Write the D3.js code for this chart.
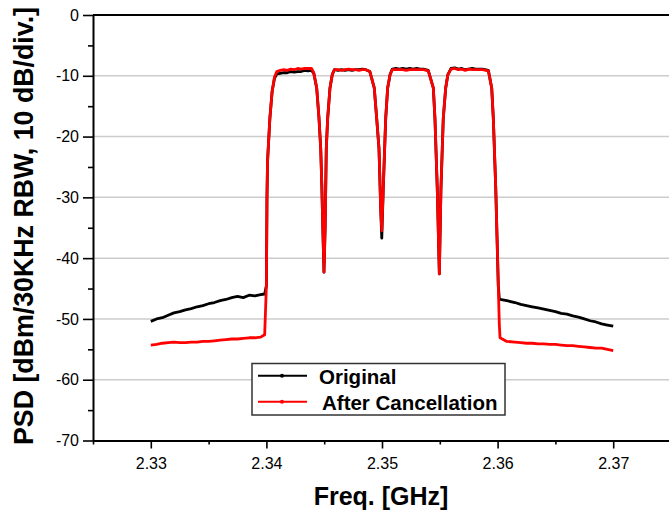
<!DOCTYPE html>
<html><head><meta charset="utf-8">
<script src="https://cdn.jsdelivr.net/npm/d3@7"></script>
<style>body{margin:0;background:#fff}svg{display:block}</style>
</head><body>
<svg id="c" width="669" height="515"></svg>
<script>
const freqGHz = [
 2.3300,2.3305,2.3310,2.3315,2.3320,2.3325,2.3330,2.3335,2.3340,2.3345,2.3350,2.3355,2.3360,2.3365,2.3370,2.3375,2.3380,2.3385,2.3390,2.3395,2.33985,
 2.34000,2.34005,2.3401,2.3403,2.3405,2.3407,2.3409,
 2.3412,2.3415,2.3418,2.3421,2.3424,2.3427,2.3430,2.3433,2.3436,2.3439,
 2.3441,2.34435,2.34455,2.3447,2.3448,2.34488,2.34498,2.34508,2.34518,2.3453,2.3455,2.3457,2.34588,
 2.3462,2.3465,2.3468,2.3471,2.3474,2.3477,2.3480,2.3483,2.3486,
 2.34895,2.34933,2.34954,2.34974,2.34989,2.34998,2.35011,2.35032,2.35049,2.3507,2.35089,
 2.3512,2.3515,2.3518,2.3521,2.3524,2.3527,2.3530,2.3533,2.3536,
 2.3540,2.35444,2.35458,2.35478,2.35496,2.3551,2.3553,2.35551,2.3557,2.35597,
 2.3563,2.3566,2.3569,2.3572,2.3575,2.3578,2.3581,2.3584,2.3587,
 2.3592,2.35949,2.35963,2.35984,2.36006,2.36015,2.36021,
 2.3608,2.3615,2.3620,2.3625,2.3630,2.3635,2.3640,2.3645,2.3650,2.3655,2.3660,2.3665,2.3670,2.3675,2.3680,2.3685,2.3690,2.3695,2.3700
];
const original = [
 -50.4,-50.0,-49.8,-49.4,-49.0,-48.8,-48.5,-48.3,-48.0,-47.8,-47.5,-47.3,-47.0,-46.8,-46.5,-46.3,-46.5,-46.1,-46.2,-46.0,-45.9,
 -44.5,-30,-24,-17,-12.5,-10.4,-9.7,
 -9.6,-9.5,-9.5,-9.3,-9.4,-9.3,-9.3,-9.1,-9.2,-9.1,
 -9.6,-12,-17,-22,-28.5,-35,-42.3,-35,-22,-17,-12,-9.8,-9.0,
 -9.1,-9.0,-9.1,-9.0,-9.1,-9.0,-9.0,-8.9,-9.0,
 -9.3,-12,-17,-22,-32,-36.7,-28.5,-17,-12,-9.8,-8.9,
 -8.8,-8.9,-8.8,-8.9,-8.8,-8.9,-8.8,-8.9,-8.9,
 -9.1,-12,-17,-28.5,-42.6,-28.5,-17,-12,-9.8,-8.8,
 -8.7,-8.9,-8.8,-9.0,-8.9,-8.8,-8.9,-8.9,-8.9,
 -9.1,-12,-17,-28.5,-44.5,-46.7,-46.8,
 -47.0,-47.3,-47.6,-47.8,-48.0,-48.2,-48.4,-48.6,-48.8,-49.1,-49.2,-49.5,-49.7,-50.0,-50.3,-50.5,-50.8,-51.0,-51.2
];
const afterCancellation = [
 -54.3,-54.2,-54.0,-53.9,-53.8,-53.9,-53.9,-53.8,-53.8,-53.7,-53.7,-53.6,-53.5,-53.4,-53.3,-53.3,-53.2,-53.1,-53.1,-53.0,-52.6,
 -44.5,-30,-24,-17,-12.5,-10.2,-9.3,
 -9.1,-9.0,-9.1,-8.9,-9.0,-8.8,-8.9,-8.8,-8.8,-8.8,
 -9.5,-12,-17,-22,-28.5,-35,-42.3,-35,-22,-17,-12,-9.8,-9.0,
 -9.0,-9.1,-9.0,-8.9,-9.0,-9.0,-9.1,-9.0,-9.0,
 -9.3,-12,-17,-22,-32,-35.5,-28.5,-17,-12,-9.8,-9.0,
 -9.0,-9.0,-9.0,-9.1,-9.0,-9.0,-9.0,-9.0,-9.0,
 -9.2,-12,-17,-28.5,-42.6,-28.5,-17,-12,-9.8,-8.9,
 -8.8,-9.0,-8.9,-9.1,-8.9,-9.0,-9.0,-9.0,-9.0,
 -9.2,-12,-17,-28.5,-44.5,-51,-53.1,
 -53.7,-53.8,-53.9,-54.0,-54.0,-54.1,-54.1,-54.2,-54.2,-54.3,-54.4,-54.4,-54.5,-54.6,-54.7,-54.8,-54.8,-55.0,-55.2
];
const xTicks = [2.33, 2.34, 2.35, 2.36, 2.37];
const xMinorTicks = [2.325, 2.335, 2.345, 2.355, 2.365, 2.375];
const yTicks = [0, -10, -20, -30, -40, -50, -60, -70];
const yMinorTicks = [-5, -15, -25, -35, -45, -55, -65];
const seriesNames = ["Original", "After Cancellation"];
const seriesColors = ["#000000", "#ff0000"];

const svg = d3.select("#c");
const FONT = "'Liberation Sans', Arial, Helvetica, sans-serif";
const L = 93, R = 671, T = 15, B = 440.5;
const x = d3.scaleLinear().domain([2.325, 2.375]).range([L, R]);
const y = d3.scaleLinear().domain([-70, 0]).range([B, T]);

// gridlines
svg.append("g").selectAll("line").data(yTicks.filter(v => v !== 0 && v !== -70)).join("line")
  .attr("x1", L).attr("x2", 669).attr("y1", d => y(d)).attr("y2", d => y(d))
  .attr("stroke", "#cccccc").attr("stroke-width", 1.5);

// series
const line = d3.line().x((d) => x(d[0])).y(d => y(d[1]));
[original, afterCancellation].forEach((vals, i) => {
  const pts = freqGHz.map((f, k) => [f, vals[k]]);
  svg.append("path").datum(pts).attr("d", line)
    .attr("fill", "none").attr("stroke", seriesColors[i]).attr("stroke-width", 2.8)
    .attr("stroke-linejoin", "round");
});

// axes
const yAxis = svg.append("g").attr("transform", `translate(${L},0)`)
  .call(d3.axisLeft(y).tickValues(yTicks).tickFormat(d => String(d)).tickSize(10).tickSizeOuter(0).tickPadding(4));
svg.append("g").attr("transform", `translate(${L},0)`)
  .call(d3.axisLeft(y).tickValues(yMinorTicks).tickFormat("").tickSize(5).tickSizeOuter(0))
  .call(g => g.select(".domain").remove());
const xAxis = svg.append("g").attr("transform", `translate(0,${B})`)
  .call(d3.axisBottom(x).tickValues(xTicks).tickFormat(d3.format(".2f")).tickSize(8).tickSizeOuter(0).tickPadding(9));
svg.append("g").attr("transform", `translate(0,${B})`)
  .call(d3.axisBottom(x).tickValues(xMinorTicks).tickFormat("").tickSize(4).tickSizeOuter(0))
  .call(g => g.select(".domain").remove());
[yAxis, xAxis].forEach(g => {
  g.selectAll("path.domain").attr("stroke", "#000").attr("stroke-width", 2);
});
svg.selectAll(".tick line").attr("stroke", "#000").attr("stroke-width", 1.6);
yAxis.selectAll("text").attr("font-family", FONT).attr("font-size", 16).attr("fill", "#000");
xAxis.selectAll("text").attr("font-family", FONT).attr("font-size", 16).attr("fill", "#000");

// top frame line
svg.append("line").attr("x1", L).attr("x2", 669).attr("y1", T).attr("y2", T)
  .attr("stroke", "#000").attr("stroke-width", 2);

// axis titles
svg.append("text").attr("transform", "translate(33,445) rotate(-90)")
  .attr("font-family", FONT).attr("font-weight", "bold").attr("font-size", 27)
  .attr("textLength", 438).attr("lengthAdjust", "spacingAndGlyphs")
  .text("PSD [dBm/30KHz RBW, 10 dB/div.]");
svg.append("text").attr("x", 381).attr("y", 505).attr("text-anchor", "middle")
  .attr("font-family", FONT).attr("font-weight", "bold").attr("font-size", 25)
  .text("Freq. [GHz]");

// legend
const lg = svg.append("g");
lg.append("rect").attr("x", 252).attr("y", 363.5).attr("width", 253).attr("height", 51.5)
  .attr("fill", "#fff").attr("stroke", "#333").attr("stroke-width", 1.5);
seriesNames.forEach((name, i) => {
  const yy = 375.7 + i * 26;
  lg.append("line").attr("x1", 258).attr("x2", 307).attr("y1", yy).attr("y2", yy)
    .attr("stroke", seriesColors[i]).attr("stroke-width", 2);
  lg.append("circle").attr("cx", 282).attr("cy", yy).attr("r", 2).attr("fill", seriesColors[i]);
  lg.append("text").attr("x", i === 0 ? 319 : 322).attr("y", yy + 8.5)
    .attr("font-family", FONT).attr("font-weight", "bold").attr("font-size", 20.5)
    .text(name);
});
</script>
</body></html>
